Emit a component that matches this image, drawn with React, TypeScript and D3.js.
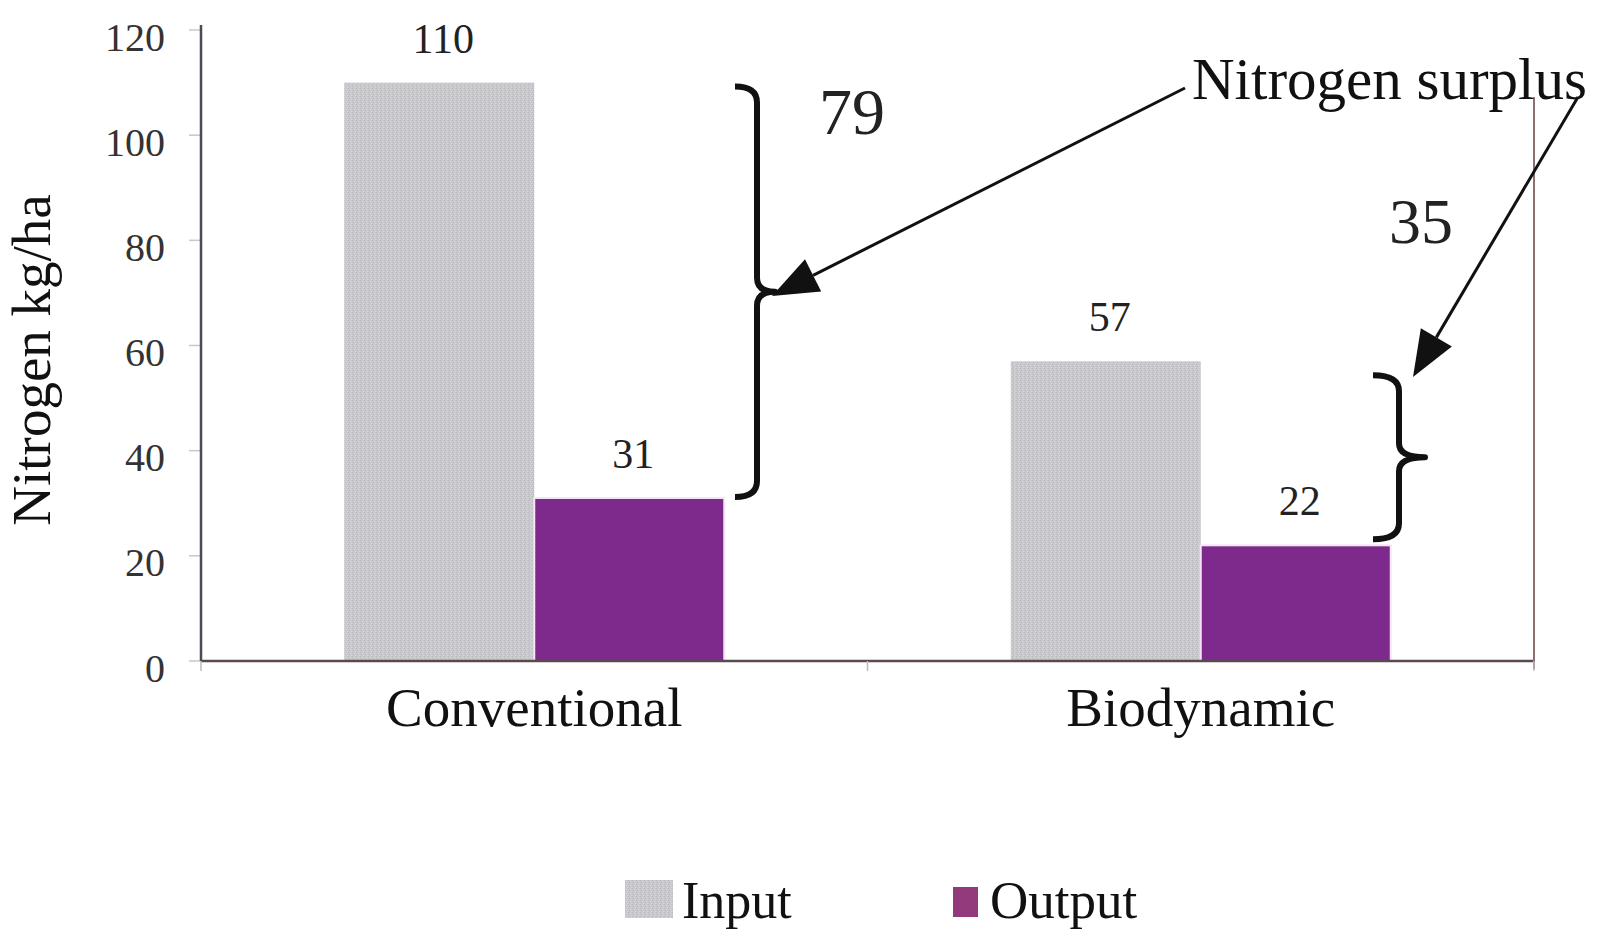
import React from "react";
import * as d3 from "d3";

const categories = ["Conventional", "Biodynamic"];
const seriesNames = ["Input", "Output"];
const inputValues = [110, 57];
const outputValues = [31, 22];
const surplusValues = [79, 35];
const yTicks = [0, 20, 40, 60, 80, 100, 120];

const W = 1600;
const H = 932;
const FONT = "'Liberation Serif', 'DejaVu Serif', serif";
const GRAY = "#c9c9cd";
const PURPLE = "#7e2a8c";

function bracePath(x: number, y1: number, y2: number, hook: number, tip: number) {
  const ym = (y1 + y2) / 2;
  return [
    `M${x - hook},${y1}`,
    `Q${x},${y1} ${x},${y1 + 16}`,
    `L${x},${ym - 14}`,
    `Q${x},${ym} ${x + tip},${ym}`,
    `Q${x},${ym} ${x},${ym + 14}`,
    `L${x},${y2 - 16}`,
    `Q${x},${y2} ${x - hook},${y2}`,
  ].join(" ");
}

function arrowHead(x1: number, y1: number, x2: number, y2: number, len: number, half: number) {
  const a = Math.atan2(y2 - y1, x2 - x1);
  const bx = x2 - len * Math.cos(a);
  const by = y2 - len * Math.sin(a);
  const px = -Math.sin(a) * half;
  const py = Math.cos(a) * half;
  return {
    pts: `${x2},${y2} ${bx + px},${by + py} ${bx - px},${by - py}`,
    bx,
    by,
  };
}

export default function App() {
  const left = 201;
  const right = 1534;
  const y = d3.scaleLinear().domain([0, 120]).range([661, 30]);
  const x0 = d3.scaleBand<string>().domain(categories).range([left, right]);
  const x1 = d3.scaleBand<string>().domain(seriesNames).range([-190, 190]);
  const colors = [GRAY, PURPLE];
  const data = [inputValues, outputValues];

  const c0 = x0(categories[0])! + x0.bandwidth() / 2;
  const c1 = x0(categories[1])! + x0.bandwidth() / 2;

  // annotations
  const brace1X = 757;
  const brace2X = 1399;
  const arrow1 = { x1: 1185, y1: 88, x2: 772, y2: 296 };
  const arrow2 = { x1: 1578, y1: 97, x2: 1413, y2: 377 };
  const h1 = arrowHead(arrow1.x1, arrow1.y1, arrow1.x2, arrow1.y2, 46, 18);
  const h2 = arrowHead(arrow2.x1, arrow2.y1, arrow2.x2, arrow2.y2, 46, 18);

  return (
    <svg width={W} height={H} style={{ position: "absolute", left: 0, top: 0, background: "#fff" }}>
      <defs>
        <pattern id="grayTex" width="4" height="4" patternUnits="userSpaceOnUse">
          <rect width="4" height="4" fill={GRAY} />
          <rect x="0" y="0" width="1" height="1" fill="#b9b9be" />
          <rect x="2" y="1" width="1" height="1" fill="#d8d8dc" />
          <rect x="1" y="2" width="1" height="1" fill="#bdbdc2" />
          <rect x="3" y="3" width="1" height="1" fill="#d6d6da" />
        </pattern>
      </defs>
      <rect width={W} height={H} fill="#fff" />

      {/* y ticks */}
      {yTicks.map((t) => (
        <g key={t}>
          <line x1={left - 12} x2={left} y1={y(t)} y2={y(t)} stroke="#c8c8c8" strokeWidth={1.5} />
          <text
            x={165}
            y={y(t) + 7}
            textAnchor="end"
            dominantBaseline="central"
            fontFamily={FONT}
            fontSize={40}
            fill="#333"
          >
            {t}
          </text>
        </g>
      ))}

      {/* bars */}
      {categories.map((c, ci) =>
        seriesNames.map((s, si) => {
          const v = data[si][ci];
          const bx = x0(c)! + x0.bandwidth() / 2 + x1(s)!;
          return (
            <rect
              key={c + s}
              x={bx}
              y={y(v)}
              width={x1.bandwidth()}
              height={y(0) - y(v)}
              fill={si === 0 ? "url(#grayTex)" : colors[si]}
              stroke={si === 1 ? "#f4e6f4" : "none"}
              strokeWidth={2}
            />
          );
        })
      )}

      {/* axes */}
      <line x1={left} x2={left} y1={25} y2={y(0)} stroke="#4a4a5a" strokeWidth={2.5} />
      <line x1={left} x2={right} y1={y(0)} y2={y(0)} stroke="#5a4a4e" strokeWidth={2.5} />
      <line x1={right} x2={right} y1={97} y2={y(0) + 8} stroke="#8c7070" strokeWidth={2} />
      {[left, (c0 + c1) / 2, right].map((tx, i) => (
        <line key={i} x1={tx} x2={tx} y1={y(0)} y2={y(0) + 10} stroke="#bbb" strokeWidth={1.5} />
      ))}

      {/* category labels */}
      {categories.map((c) => (
        <text
          key={c}
          x={x0(c)! + x0.bandwidth() / 2}
          y={726}
          textAnchor="middle"
          fontFamily={FONT}
          fontSize={55}
          fill="#111"
        >
          {c}
        </text>
      ))}

      {/* value labels */}
      {categories.map((c, ci) =>
        seriesNames.map((s, si) => {
          const v = data[si][ci];
          const cx = x0(c)! + x0.bandwidth() / 2 + x1(s)! + x1.bandwidth() / 2;
          return (
            <text
              key={"l" + c + s}
              x={cx + 4}
              y={y(v) - 30}
              textAnchor="middle"
              fontFamily={FONT}
              fontSize={42}
              fill="#222"
            >
              {v}
            </text>
          );
        })
      )}

      {/* y title */}
      <text
        transform={`translate(50, 360) rotate(-90)`}
        textAnchor="middle"
        fontFamily={FONT}
        fontSize={55}
        fill="#111"
      >
        Nitrogen kg/ha
      </text>

      {/* braces */}
      <path
        d={bracePath(brace1X, y(inputValues[0]) + 4, y(outputValues[0]) - 1, 22, 18)}
        fill="none"
        stroke="#111"
        strokeWidth={6}
        strokeLinejoin="round"
      />
      <path
        d={bracePath(brace2X, y(inputValues[1]) + 14, y(outputValues[1]) - 6, 26, 26)}
        fill="none"
        stroke="#111"
        strokeWidth={6}
        strokeLinejoin="round"
      />

      {/* surplus numbers */}
      <text x={852} y={134} textAnchor="middle" fontFamily={FONT} fontSize={66} fill="#222">
        {surplusValues[0]}
      </text>
      <text x={1421} y={243} textAnchor="middle" fontFamily={FONT} fontSize={64} fill="#222">
        {surplusValues[1]}
      </text>

      {/* arrows */}
      <line x1={arrow1.x1} y1={arrow1.y1} x2={h1.bx} y2={h1.by} stroke="#111" strokeWidth={3} />
      <polygon points={h1.pts} fill="#111" />
      <line x1={arrow2.x1} y1={arrow2.y1} x2={h2.bx} y2={h2.by} stroke="#111" strokeWidth={3} />
      <polygon points={h2.pts} fill="#111" />

      <text x={1192} y={99} fontFamily={FONT} fontSize={59} fill="#111">
        Nitrogen surplus
      </text>

      {/* legend */}
      <rect x={625} y={880} width={48} height={38} fill="url(#grayTex)" />
      <text x={682} y={918} fontFamily={FONT} fontSize={52} fill="#111">
        {seriesNames[0]}
      </text>
      <rect x={953} y={887} width={25} height={30} fill="#933a7c" />
      <text x={990} y={918} fontFamily={FONT} fontSize={53} fill="#111">
        {seriesNames[1]}
      </text>
    </svg>
  );
}
